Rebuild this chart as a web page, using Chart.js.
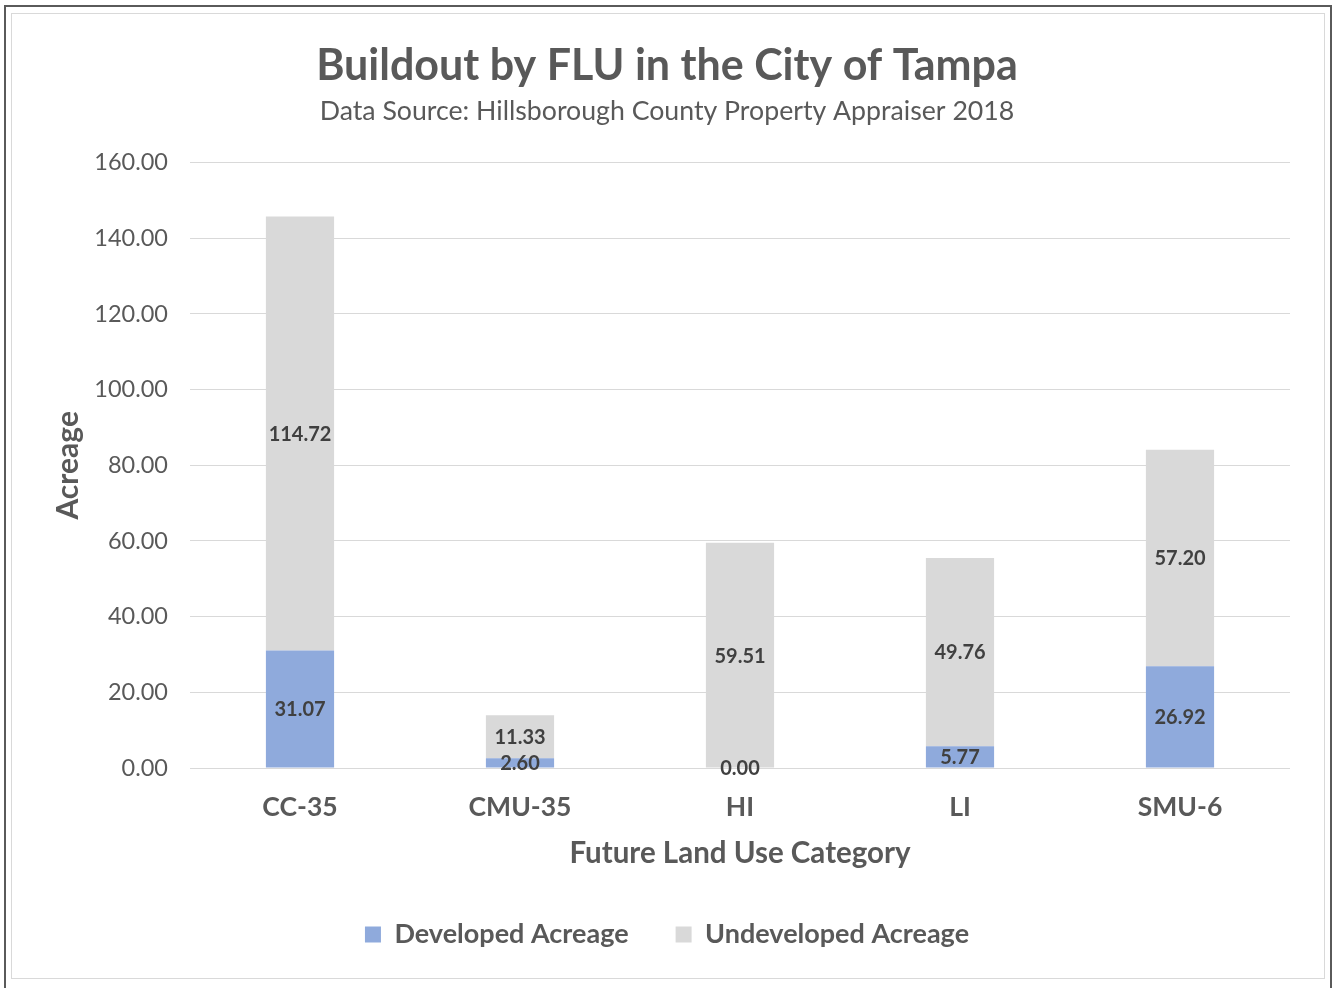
<!DOCTYPE html>
<html>
<head>
<meta charset="utf-8">
<script src="https://cdn.jsdelivr.net/npm/chart.js@4.4.1/dist/chart.umd.min.js"></script>
<style>
  html, body { margin: 0; padding: 0; background: #ffffff; overflow: hidden; }
  #wrap { position: relative; width: 1334px; height: 988px; overflow: hidden; }
  #chart { position: absolute; left: 0; top: 0; }
  .frame-outer { position: absolute; left: 4px; top: 5px; width: 1324px; height: 990px;
    border-left: 2px solid #5a5a5a; border-top: 2px solid #5a5a5a; border-right: 2px solid #5a5a5a; pointer-events: none; }
  .frame-inner { position: absolute; left: 11px; top: 13px; width: 1312px; height: 964px;
    border: 1px solid #d9d9d9; pointer-events: none; }
</style>
</head>
<body>
<div id="wrap">
  <canvas id="chart" width="1334" height="992"></canvas>
  <div class="frame-inner"></div>
  <div class="frame-outer"></div>
</div>
<script>
// Future land use categories and acreage per category
const categories = ['CC-35', 'CMU-35', 'HI', 'LI', 'SMU-6'];
const developedAcreage = [31.07, 2.60, 0.00, 5.77, 26.92];
const undevelopedAcreage = [114.72, 11.33, 59.51, 49.76, 57.20];
const yTicks = [0, 20, 40, 60, 80, 100, 120, 140, 160];

const FONT = 'Lato, "Open Sans", sans-serif';
const AXIS_GREY = '#595959';

// Writes each segment's value in the middle of its bar segment
const segmentLabels = {
  id: 'segmentLabels',
  afterDatasetsDraw(chart) {
    const ctx = chart.ctx;
    ctx.save();
    ctx.font = 'bold 20px ' + FONT;
    ctx.fillStyle = '#404040';
    ctx.textAlign = 'center';
    ctx.textBaseline = 'middle';
    chart.data.datasets.forEach((ds, di) => {
      const meta = chart.getDatasetMeta(di);
      meta.data.forEach((bar, i) => {
        const v = ds.data[i];
        const cy = (bar.y + bar.base) / 2;
        ctx.fillText(v.toFixed(2), bar.x, cy + 1);
      });
    });
    ctx.restore();
  }
};

new Chart(document.getElementById('chart'), {
  type: 'bar',
  data: {
    labels: categories,
    datasets: [
      { label: 'Developed Acreage', data: developedAcreage, backgroundColor: '#8faadc',
        barPercentage: 0.31, categoryPercentage: 1.0 },
      { label: 'Undeveloped Acreage', data: undevelopedAcreage, backgroundColor: '#d9d9d9',
        barPercentage: 0.31, categoryPercentage: 1.0 }
    ]
  },
  options: {
    responsive: false,
    animation: false,
    layout: { padding: { top: 0, left: 0, right: 0, bottom: 34 } },
    plugins: {
      title: {
        display: true,
        text: 'Buildout by FLU in the City of Tampa',
        color: AXIS_GREY,
        font: { family: FONT, size: 43, weight: 'bold', lineHeight: 1.2 },
        padding: { top: 40, bottom: 0 }
      },
      subtitle: {
        display: true,
        text: 'Data Source: Hillsborough County Property Appraiser 2018',
        color: AXIS_GREY,
        font: { family: FONT, size: 26.7, lineHeight: 1.2 },
        padding: { top: 4, bottom: 35 }
      },
      legend: {
        position: 'bottom',
        labels: {
          color: AXIS_GREY,
          font: { family: FONT, size: 27, weight: 'bold' },
          boxWidth: 16,
          boxHeight: 16,
          padding: 47
        }
      },
      tooltip: { enabled: false }
    },
    scales: {
      x: {
        stacked: true,
        grid: { display: false },
        border: { display: false },
        ticks: {
          color: AXIS_GREY,
          font: { family: FONT, size: 26.5, weight: 'bold' },
          padding: 16
        },
        title: {
          display: true,
          text: 'Future Land Use Category',
          color: AXIS_GREY,
          font: { family: FONT, size: 29.5, weight: 'bold', lineHeight: 1.2 },
          padding: { top: 0, bottom: 3 }
        },
        afterFit(scale) { scale.height = 106; }
      },
      y: {
        stacked: true,
        min: 0,
        max: 160,
        afterBuildTicks(scale) { scale.ticks = yTicks.map(v => ({ value: v })); },
        grid: { color: '#d9d9d9', lineWidth: 1, drawTicks: false },
        border: { display: false },
        ticks: {
          color: AXIS_GREY,
          font: { family: FONT, size: 23.5 },
          padding: 22,
          callback: v => Number(v).toFixed(2)
        },
        title: {
          display: true,
          text: 'Acreage',
          color: AXIS_GREY,
          font: { family: FONT, size: 30, weight: 'bold', lineHeight: 1.2 },
          padding: { top: 50, bottom: 0 }
        },
        afterFit(scale) { scale.width = 190; }
      },
      yRight: {
        position: 'right',
        display: true,
        grid: { display: false },
        border: { display: false },
        ticks: { display: false },
        afterFit(scale) { scale.width = 44; }
      }
    }
  },
  plugins: [segmentLabels]
});
</script>
</body>
</html>
